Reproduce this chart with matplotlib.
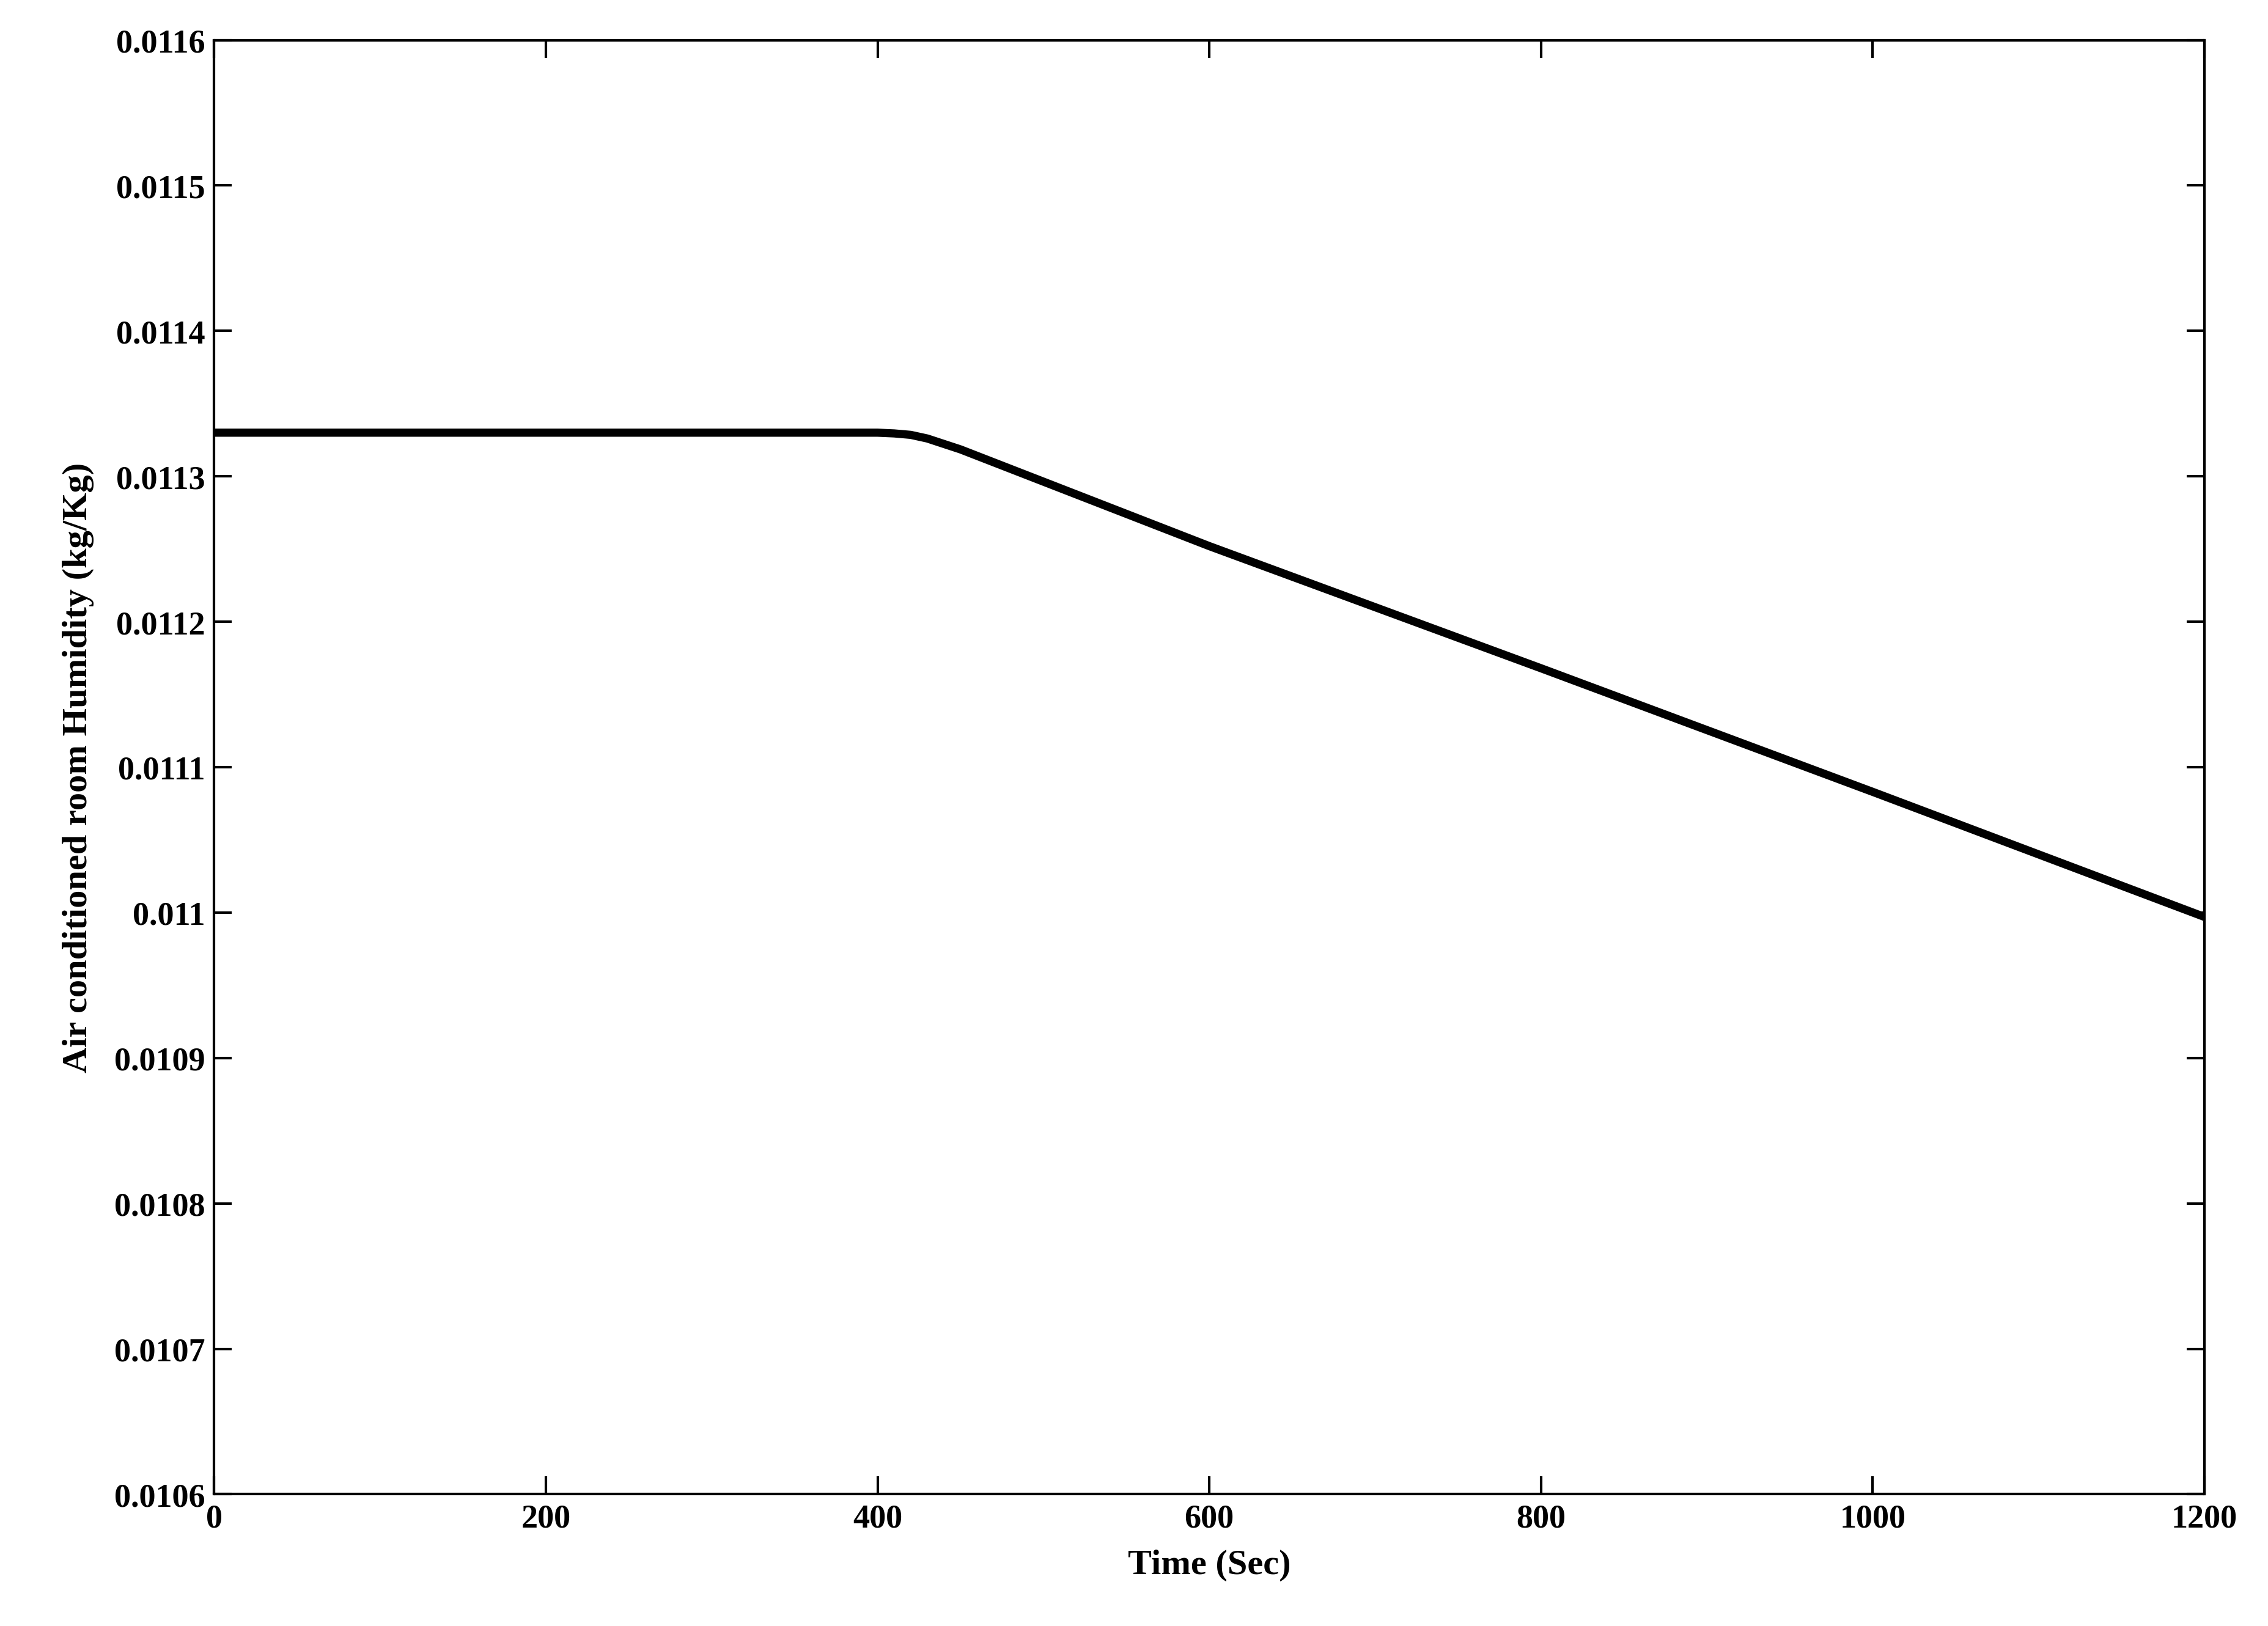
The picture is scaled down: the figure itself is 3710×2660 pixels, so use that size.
import matplotlib
matplotlib.use("Agg")
import matplotlib.pyplot as plt

time_s = [0, 400, 410, 420, 430, 450, 600, 800, 1000, 1200]
humidity = [0.01133, 0.01133, 0.0113295, 0.0113285, 0.011326, 0.0113185, 0.011252, 0.011168, 0.011083, 0.010997]
xticks = [0, 200, 400, 600, 800, 1000, 1200]
yticks = [0.0106, 0.0107, 0.0108, 0.0109, 0.011, 0.0111, 0.0112, 0.0113, 0.0114, 0.0115, 0.0116]
ytick_labels = ["0.0106", "0.0107", "0.0108", "0.0109", "0.011", "0.0111", "0.0112", "0.0113", "0.0114", "0.0115", "0.0116"]

plt.rcParams['font.family'] = ['Liberation Serif', 'DejaVu Serif']
plt.rcParams['font.weight'] = 'bold'
fig = plt.figure(figsize=(3710/300, 2661/300), dpi=300)
ax = fig.add_axes([0.0944, 0.081, 0.8776, 0.894])
ax.plot(time_s, humidity, color='black', lw=3.2)
ax.set_xlim(0, 1200)
ax.set_ylim(0.0106, 0.0116)
ax.set_xticks(xticks)
ax.set_xticklabels([str(t) for t in xticks], fontsize=13, fontweight='bold')
ax.set_yticks(yticks)
ax.set_yticklabels(ytick_labels, fontsize=13, fontweight='bold')
ax.tick_params(direction='in', top=True, right=True, length=7, width=1)
for s in ax.spines.values():
    s.set_linewidth(1)
ax.set_xlabel('Time (Sec)', fontsize=14, fontweight='bold', labelpad=6)
ax.set_ylabel('Air conditioned room Humidity (kg/Kg)', fontsize=14, fontweight='bold', labelpad=8)
fig.savefig('out.png', dpi=300)
